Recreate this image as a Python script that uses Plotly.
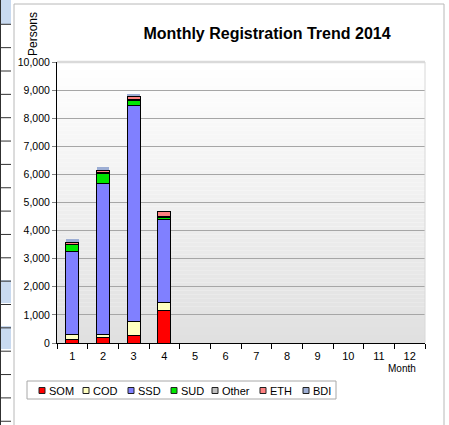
import plotly.graph_objects as go

# ---------------- data ----------------
months = [str(m) for m in range(1, 13)]
series_names = ["SOM", "COD", "SSD", "SUD", "Other", "ETH", "BDI"]
SOM   = [130, 190, 250, 1160] + [None] * 8
COD   = [160, 130, 500, 270] + [None] * 8
SSD   = [2980, 5360, 7710, 2960] + [None] * 8
SUD   = [220, 360, 160, 90] + [None] * 8
Other = [20, 20, 30, 20] + [None] * 8
ETH   = [80, 80, 130, 190] + [None] * 8
BDI   = [120, 110, 90, 0] + [None] * 8
y_ticks = list(range(0, 10001, 1000))

series_values = [SOM, COD, SSD, SUD, Other, ETH, BDI]
colors = ["#FF0000", "#FFFFC0", "#8080FF", "#00E600", "#C0C0C0", "#FF8080", "#9DAED4"]
line_w = [1, 1, 1, 1, 1, 1, 0]

W, H = 449, 425
L, R, T, B = 57, 425, 62, 343  # plot area in pixels


def px(x):
    return (x - L) / (R - L)


def py(y):
    return (B - y) / (B - T)


FONT = "Liberation Sans, Arial, Helvetica, sans-serif"

fig = go.Figure()
for name, vals, c, lw in zip(series_names, series_values, colors, line_w):
    fig.add_trace(go.Bar(
        x=months, y=vals, name=name, width=0.42,
        marker=dict(color=c, line=dict(color="#000000" if lw else c, width=lw)),
        showlegend=False,
    ))

shapes = []
# left spreadsheet strip (decoration)
for (a, b) in [(0, 24), (280, 303), (326, 349)]:
    shapes.append(dict(type="rect", xref="paper", yref="paper", x0=px(0), x1=px(11), y0=py(a), y1=py(b),
                       fillcolor="#C9DAF0", line=dict(width=0), layer="below"))
yy = 24.3
while yy < H:
    shapes.append(dict(type="line", xref="paper", yref="paper", x0=px(0), x1=px(11), y0=py(yy), y1=py(yy),
                       line=dict(color="#303030", width=1), layer="below"))
    yy += 23.35
shapes.append(dict(type="line", xref="paper", yref="paper", x0=px(0.5), x1=px(0.5), y0=py(0), y1=py(H),
                   line=dict(color="#303030", width=1), layer="below"))
# chart outer border
shapes.append(dict(type="rect", xref="paper", yref="paper", x0=px(14), x1=px(444), y0=py(4), y1=py(H + 5),
                   fillcolor="#FFFFFF", line=dict(color="#B8B8B8", width=1), layer="below"))
# gradient background of plot area
n = 70
for i in range(n):
    t = i / (n - 1)
    g = int(round(255 - t * (255 - 224)))
    shapes.append(dict(type="rect", xref="x domain", yref="y domain",
                       x0=0, x1=1, y0=1 - i / n, y1=1 - (i + 1) / n,
                       fillcolor=f"rgb({g},{g},{g})", line=dict(width=0), layer="below"))
# light border top/right of plot area (covers the top grid line)
shapes.append(dict(type="line", xref="x domain", yref="y domain", x0=0, x1=1, y0=1, y1=1,
                   line=dict(color="#DADADA", width=2.5)))
shapes.append(dict(type="line", xref="x domain", yref="y domain", x0=1, x1=1, y0=0, y1=1,
                   line=dict(color="#D8D8D8", width=1)))

# custom legend
shapes.append(dict(type="rect", xref="paper", yref="paper", x0=px(27), x1=px(336), y0=py(381), y1=py(399),
                   fillcolor="#FFFFFF", line=dict(color="#A8A8A8", width=1)))
sq_x = [39, 83, 128, 171, 212, 260, 303]
annotations = []
for sx, name, c in zip(sq_x, series_names, colors):
    shapes.append(dict(type="rect", xref="paper", yref="paper", x0=px(sx), x1=px(sx + 6),
                       y0=py(387.5), y1=py(393.5), fillcolor=c,
                       line=dict(color="#202020", width=1)))
    annotations.append(dict(text=name, xref="paper", yref="paper", x=px(sx + 8), y=py(390.5),
                            xanchor="left", yanchor="middle", showarrow=False,
                            font=dict(family=FONT, size=11, color="#000000")))

annotations.append(dict(text="Persons", xref="paper", yref="paper", x=px(33), y=py(34),
                        textangle=-90, showarrow=False, xanchor="center", yanchor="middle",
                        font=dict(family=FONT, size=12, color="#000000")))
annotations.append(dict(text="Month", xref="paper", yref="paper", x=px(402), y=py(368),
                        showarrow=False, xanchor="center", yanchor="middle",
                        font=dict(family=FONT, size=10, color="#000000")))

fig.update_layout(
    width=W, height=H,
    margin=dict(l=L, r=W - R, t=T, b=H - B, pad=0),
    paper_bgcolor="#FFFFFF", plot_bgcolor="rgba(0,0,0,0)",
    barmode="stack", bargap=0.5, hovermode=False,
    title=dict(text="<b>Monthly Registration Trend 2014</b>", x=267 / W, xanchor="center",
               y=1 - 33 / H, yanchor="middle", font=dict(family=FONT, size=16, color="#000000")),
    font=dict(family=FONT, color="#000000"),
    shapes=shapes, annotations=annotations,
    xaxis=dict(type="category", categoryorder="array", categoryarray=months, range=[-0.5, 11.5],
               showline=True, linecolor="#000000", linewidth=1, ticks="outside", tickson="boundaries",
               ticklen=5, tickcolor="#000000", showgrid=False, ticklabelstandoff=3,
               tickfont=dict(family=FONT, size=11, color="#000000")),
    yaxis=dict(range=[0, 10000], tickvals=y_ticks, tickformat=",d", showline=True, linecolor="#000000",
               linewidth=1, ticks="outside", ticklen=4, tickcolor="#808080", showgrid=True,
               gridcolor="#A6A6A6", gridwidth=1, zeroline=False,
               tickfont=dict(family=FONT, size=10.5, color="#000000")),
)

fig.write_html("out.html", config={"displayModeBar": False, "staticPlot": True},
               post_script="document.body.style.margin='0';document.body.style.overflow='hidden';")
